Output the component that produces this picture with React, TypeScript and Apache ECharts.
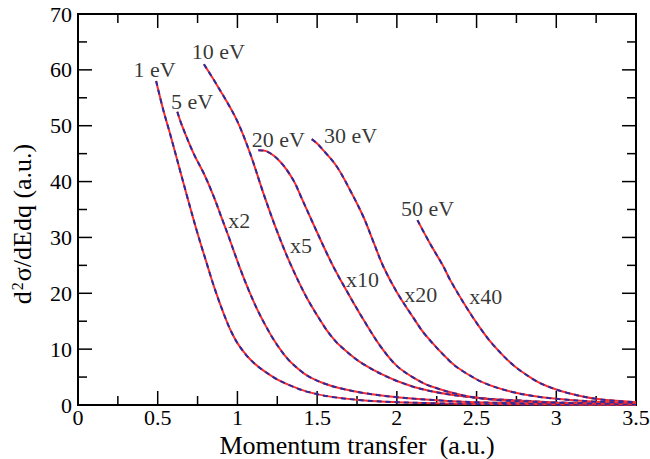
import React, { useEffect, useRef } from "react";
import * as echarts from "echarts";

const curve1eV: [number, number][] = [
  [0.49, 58.0], [0.535, 52.8], [0.577, 48.6], [0.64, 42.0], [0.682, 37.6],
  [0.745, 31.2], [0.807, 25.4], [0.86, 20.6], [0.912, 16.5], [0.96, 13.2],
  [1.016, 10.4], [1.1, 7.6], [1.225, 5.0], [1.33, 3.5], [1.435, 2.4],
  [1.581, 1.5], [1.8, 0.8], [2.0, 0.5], [2.25, 0.3], [2.5, 0.18],
  [3.0, 0.07], [3.5, 0.03],
];
const curve5eV: [number, number][] = [
  [0.623, 52.5], [0.65, 50.2], [0.724, 45.1], [0.79, 41.4], [0.849, 37.5],
  [0.9, 33.6], [0.943, 30.3], [1.016, 24.5], [1.07, 20.6], [1.121, 17.3],
  [1.175, 14.3], [1.225, 11.8], [1.28, 9.5], [1.33, 7.8], [1.435, 5.3],
  [1.54, 3.9], [1.644, 3.0], [1.8, 2.1], [2.0, 1.4], [2.25, 0.85],
  [2.5, 0.5], [3.0, 0.2], [3.5, 0.08],
];
const curve10eV: [number, number][] = [
  [0.79, 61.0], [0.89, 56.4], [0.996, 51.0], [1.079, 45.1], [1.163, 37.9],
  [1.246, 31.3], [1.33, 25.4], [1.435, 19.2], [1.539, 14.3], [1.581, 12.6],
  [1.644, 10.6], [1.79, 7.3], [2.0, 4.3], [2.208, 2.5], [2.5, 1.3],
  [2.836, 0.7], [3.0, 0.45], [3.5, 0.2],
];
const curve20eV: [number, number][] = [
  [1.131, 45.6], [1.184, 45.4], [1.267, 43.6], [1.35, 40.3], [1.4, 37.2],
  [1.476, 32.4], [1.55, 27.8], [1.612, 24.2], [1.686, 20.4], [1.79, 15.3],
  [1.895, 10.6], [2.0, 7.0], [2.104, 4.9], [2.208, 3.4], [2.417, 1.7],
  [2.627, 0.9], [2.836, 0.6], [3.0, 0.4], [3.5, 0.15],
];
const curve30eV: [number, number][] = [
  [1.466, 47.6], [1.5, 46.8], [1.539, 45.6], [1.623, 42.7], [1.706, 38.5],
  [1.79, 33.7], [1.853, 29.2], [1.915, 24.8], [2.0, 20.2], [2.104, 15.6],
  [2.18, 12.5], [2.334, 7.8], [2.417, 6.0], [2.543, 4.0], [2.7, 2.5],
  [2.856, 1.6], [3.0, 1.1], [3.25, 0.6], [3.5, 0.4],
];
const curve50eV: [number, number][] = [
  [2.129, 33.1], [2.208, 28.9], [2.292, 24.8], [2.334, 22.4], [2.438, 17.4],
  [2.522, 13.8], [2.6, 10.9], [2.731, 7.1], [2.856, 4.6], [2.94, 3.4],
  [3.066, 2.2], [3.25, 1.1], [3.5, 0.5],
];

const curveNames = ["1 eV", "5 eV", "10 eV", "20 eV", "30 eV", "50 eV"];
const curves = [curve1eV, curve5eV, curve10eV, curve20eV, curve30eV, curve50eV];

// annotation texts placed at data coordinates [x, y, text]
const energyLabels: [number, number, string][] = [
  [0.48, 60.0, "1 eV"],
  [0.715, 54.3, "5 eV"],
  [0.88, 63.2, "10 eV"],
  [1.257, 47.6, "20 eV"],
  [1.71, 48.2, "30 eV"],
  [2.193, 35.2, "50 eV"],
];
const scaleLabels: [number, number, string][] = [
  [1.011, 33.1, "x2"],
  [1.398, 28.6, "x5"],
  [1.785, 22.5, "x10"],
  [2.15, 19.7, "x20"],
  [2.558, 19.4, "x40"],
];

// tick values (data units)
const xMajorTicks = [0, 0.5, 1, 1.5, 2, 2.5, 3, 3.5];
const xMinorTicks = [0.25, 0.75, 1.25, 1.75, 2.25, 2.75, 3.25];
const yMajorTicks = [0, 10, 20, 30, 40, 50, 60, 70];
const yMinorTicks = [5, 15, 25, 35, 45, 55, 65];

const FONT = "'Liberation Serif', 'Times New Roman', Times, serif";
const RED = "#ff2b2b";
const BLUE = "#2b2b9c";

export default function App() {
  const ref = useRef<HTMLDivElement>(null);
  useEffect(() => {
    if (!ref.current) return;
    const chart = echarts.init(ref.current, null, { renderer: "svg" });
    const series: any[] = [];
    curves.forEach((c, i) => {
      series.push({
        name: curveNames[i] + " a",
        type: "line",
        data: c,
        showSymbol: false,
        symbol: "none",
        smooth: 0.35,
        lineStyle: { color: RED, width: 2 },
      });
      series.push({
        name: curveNames[i] + " b",
        type: "line",
        data: c,
        showSymbol: false,
        symbol: "none",
        smooth: 0.35,
        lineStyle: { color: BLUE, width: 2, type: [5, 4] },
      });
    });
    series.push({
      name: "labels",
      type: "scatter",
      data: [...energyLabels, ...scaleLabels],
      symbolSize: 0,
      label: {
        show: true,
        position: "inside",
        formatter: (p: any) => p.data[2],
        color: "#000",
        fontFamily: FONT,
        fontSize: 22,
      },
    });
    // tick marks on all four sides, placed through the axis scales
    const tickData: number[][] = [
      ...xMajorTicks.map((v) => [v, 1, 0]),
      ...xMinorTicks.map((v) => [v, 0, 0]),
      ...yMajorTicks.map((v) => [v, 1, 1]),
      ...yMinorTicks.map((v) => [v, 0, 1]),
    ];
    series.push({
      name: "ticks",
      type: "custom",
      data: tickData,
      clip: false,
      silent: true,
      encode: { x: -1, y: -1 },
      renderItem: (params: any, api: any) => {
        const v = api.value(0);
        const major = api.value(1) === 1;
        const dim = api.value(2);
        const len = major ? 14 : 9;
        const cs = params.coordSys;
        const style = { stroke: "#000", lineWidth: 1.5 };
        if (dim === 0) {
          const px = api.coord([v, 0])[0];
          const yb = cs.y + cs.height;
          return {
            type: "group",
            children: [
              { type: "line", shape: { x1: px, y1: yb, x2: px, y2: yb - len }, style },
              { type: "line", shape: { x1: px, y1: cs.y, x2: px, y2: cs.y + len }, style },
            ],
          };
        }
        const py = api.coord([0, v])[1];
        const xr = cs.x + cs.width;
        return {
          type: "group",
          children: [
            { type: "line", shape: { x1: cs.x, y1: py, x2: cs.x + len, y2: py }, style },
            { type: "line", shape: { x1: xr, y1: py, x2: xr - len, y2: py }, style },
          ],
        };
      },
    });
    chart.setOption({
      animation: false,
      backgroundColor: "#fff",
      grid: {
        left: 78, right: 14, top: 14, bottom: 54,
        containLabel: false,
        outerBoundsMode: "none",
        show: true,
        borderColor: "#000",
        borderWidth: 2,
        backgroundColor: "transparent",
      },
      xAxis: {
        type: "value",
        min: 0,
        max: 3.5,
        interval: 0.5,
        axisLine: { show: true, onZero: false, lineStyle: { color: "#000", width: 2 } },
        axisTick: { show: false },
        minorTick: { show: false },
        splitLine: { show: false },
        axisLabel: { color: "#000", fontFamily: FONT, fontSize: 22, margin: 1 },
        name: "Momentum transfer  (a.u.)",
        nameLocation: "middle",
        nameGap: 21,
        nameTextStyle: { color: "#000", fontFamily: FONT, fontSize: 26, verticalAlign: "top" },
      },
      yAxis: {
        type: "value",
        min: 0,
        max: 70,
        interval: 10,
        axisLine: { show: true, onZero: false, lineStyle: { color: "#000", width: 2 } },
        axisTick: { show: false },
        minorTick: { show: false },
        splitLine: { show: false },
        axisLabel: { color: "#000", fontFamily: FONT, fontSize: 22, margin: 6 },
      },
      graphic: [
        {
          type: "text",
          x: 22,
          y: 224,
          rotation: Math.PI / 2,
          style: {
            text: "{a|d}{s|2}{a|σ/dEdq (a.u.)}",
            align: "center",
            verticalAlign: "middle",
            fill: "#000",
            rich: {
              a: { fontFamily: FONT, fontSize: 26, fill: "#000", color: "#000" },
              s: { fontFamily: FONT, fontSize: 16, fill: "#000", color: "#000", verticalAlign: "top", padding: [0, 1, 0, 1] },
            },
          },
        },
      ],
      series,
    });
    return () => chart.dispose();
  }, []);
  return <div ref={ref} style={{ width: 650, height: 459, position: "absolute", left: 0, top: 0 }} />;
}
